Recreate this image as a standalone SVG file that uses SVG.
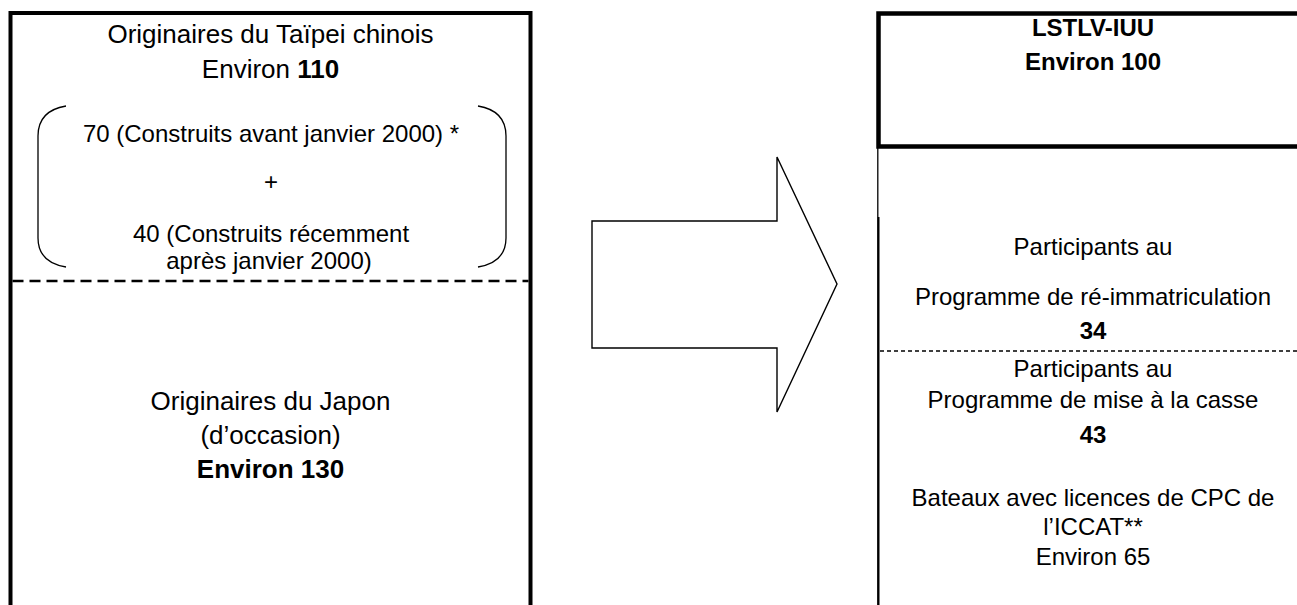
<svg xmlns="http://www.w3.org/2000/svg" width="1297" height="605" viewBox="0 0 1297 605">
<style>
text{font-family:"Liberation Sans",Arial,sans-serif;font-size:24px;fill:#000;text-anchor:middle}
.big{font-size:26px}
.b{font-weight:bold}
.ln{fill:none;stroke:#000}
</style>
<rect width="1297" height="605" fill="#fff"/>
<g id="source-box">
<rect class="ln" x="10.5" y="13" width="520" height="620" stroke-width="4"/>
<line class="ln" x1="12.5" y1="281" x2="528.5" y2="281" stroke-width="2.7" stroke-dasharray="11 6"/>
</g>
<g id="taipei">
<text x="270.5" y="43" class="big">Originaires du Taïpei chinois</text>
<text x="270.5" y="78" class="big">Environ <tspan class="b">110</tspan></text>
<path class="ln" stroke-width="1.3" d="M66 106 C48 109 38 119 38 136 V238 C38 255 48 264 66 267"/>
<path class="ln" stroke-width="1.3" d="M478 106 C496 109 506 119 506 136 V238 C506 255 496 264 478 267"/>
<text x="271" y="142">70 (Construits avant janvier 2000) *</text>
<text x="271" y="190">+</text>
<text x="271" y="242">40 (Construits récemment</text>
<text x="269" y="269">après janvier 2000)</text>
</g>
<g id="japon">
<text x="270.5" y="410" class="big">Originaires du Japon</text>
<text x="270.5" y="444" class="big">(d’occasion)</text>
<text x="270.5" y="478" class="big b">Environ 130</text>
</g>
<g id="connectors">
<path class="ln" stroke-width="1.4" d="M592 221 H777 V157 L837 284 L777 412 V348 H592 Z"/>
</g>
<g id="lstlv">
<path class="ln" stroke-width="4.5" d="M1300 13.5 H878.5 V146.5 H1300"/>
<text x="1093" y="36" class="b">LSTLV-IUU</text>
<text x="1093" y="70" class="b">Environ 100</text>
</g>
<g id="lstlv-detail">
<line class="ln" x1="877.8" y1="148" x2="877.8" y2="217" stroke-width="1.3"/>
<line class="ln" x1="878.3" y1="217" x2="878.3" y2="605" stroke-width="2.4"/>
<line class="ln" x1="880" y1="351" x2="1297" y2="351" stroke-width="1.4" stroke-dasharray="4 3"/>
<text x="1093" y="255">Participants au</text>
<text x="1093" y="305">Programme de ré-immatriculation</text>
<text x="1093" y="339" class="b">34</text>
<text x="1093" y="377">Participants au</text>
<text x="1093" y="408">Programme de mise à la casse</text>
<text x="1093" y="443" class="b">43</text>
<text x="1093" y="506">Bateaux avec licences de CPC de</text>
<text x="1093" y="535">l’ICCAT**</text>
<text x="1093" y="565">Environ 65</text>
</g>
</svg>
